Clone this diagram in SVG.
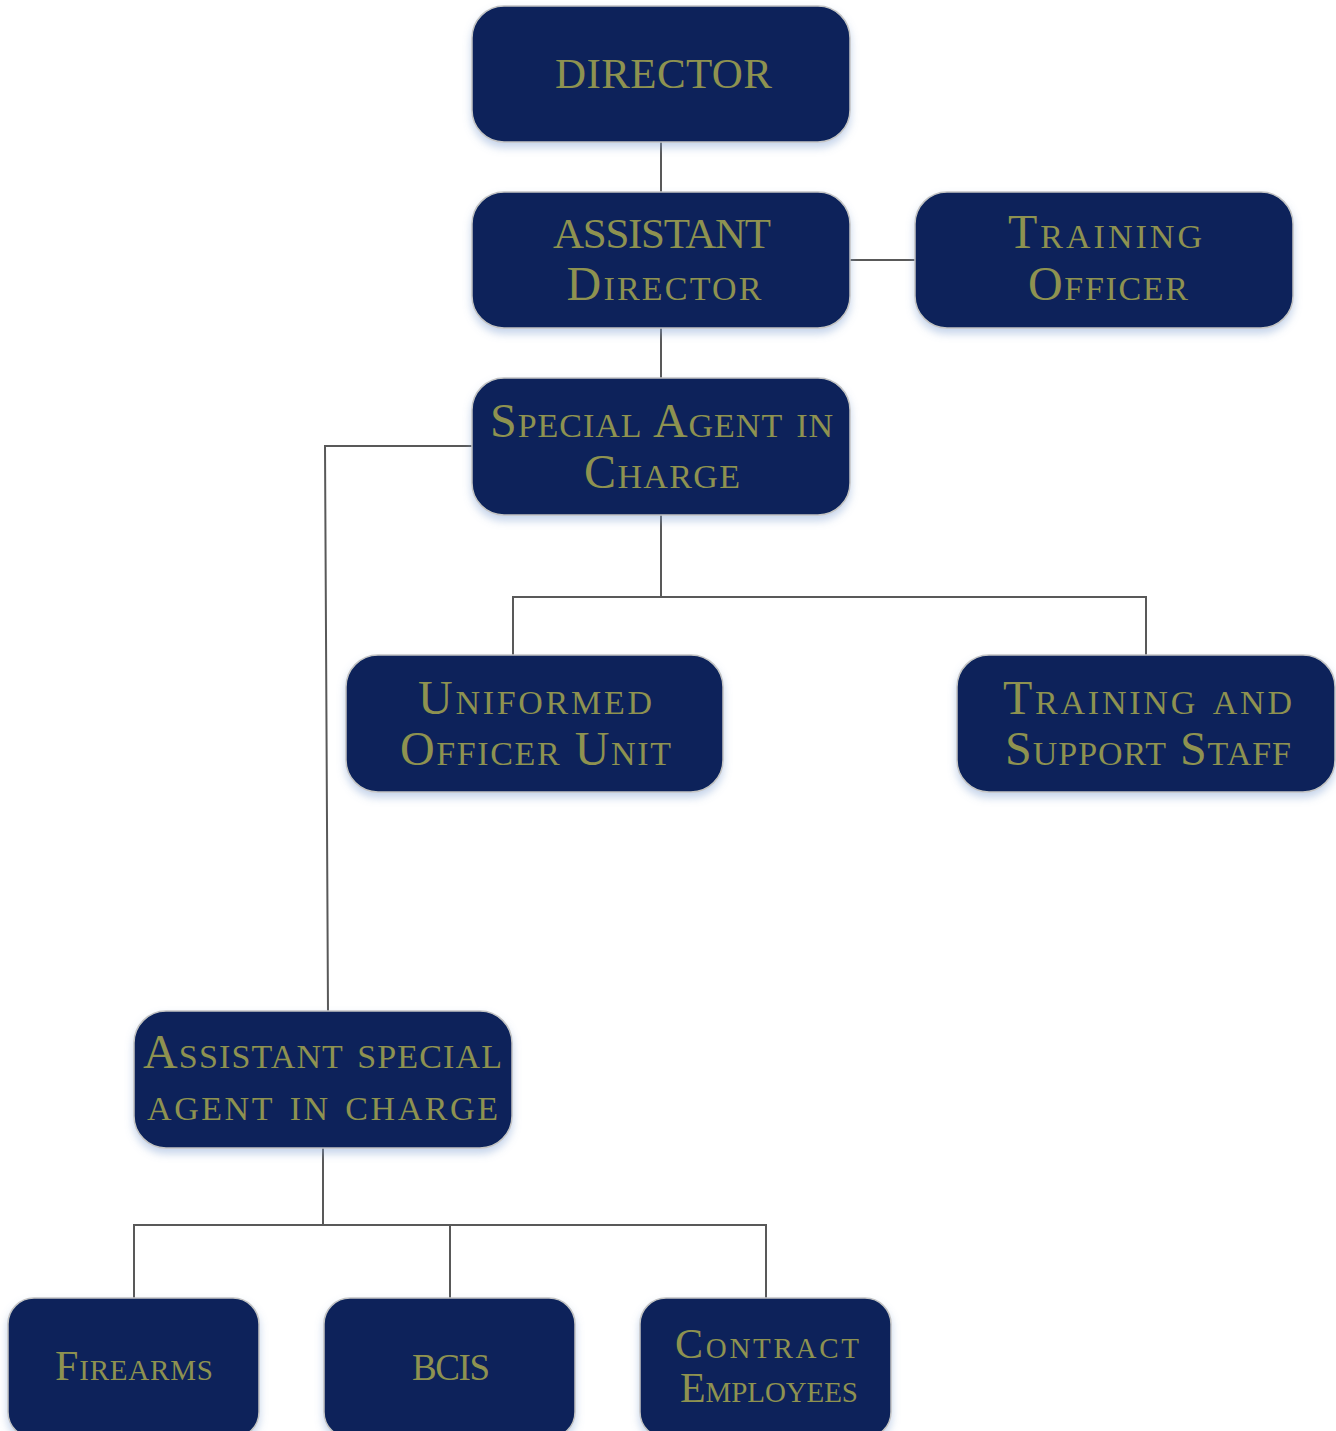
<svg xmlns="http://www.w3.org/2000/svg" width="1336" height="1431" viewBox="0 0 1336 1431">
<defs>
<filter id="sh" x="-10%" y="-20%" width="120%" height="150%">
<feDropShadow dx="0" dy="5" stdDeviation="4" flood-color="#7f9fd0" flood-opacity="0.45"/>
</filter>
<style>
.box{fill:#08235a;stroke:#c4c4c4;stroke-width:1.5;filter:url(#sh)}
.t{font-family:"Liberation Serif","Times New Roman",serif;font-variant:small-caps;fill:#8e9250;text-anchor:middle;font-size:48px}
.u{font-size:43px}
.s{font-size:42px}
.b{font-size:37px}
.c{fill:none;stroke:#595959;stroke-width:2}
</style>
</defs>
<rect width="1336" height="1431" fill="#ffffff"/>
<g id="connectors">
<line class="c" x1="661" y1="142" x2="661" y2="192"/>
<line class="c" x1="850" y1="260" x2="915" y2="260"/>
<line class="c" x1="661" y1="328" x2="661" y2="378"/>
<polyline class="c" points="472,446 325,446 328,1011"/>
<polyline class="c" points="661,515 661,597"/>
<polyline class="c" points="513,655 513,597 1146,597 1146,655"/>
<line class="c" x1="323" y1="1148" x2="323" y2="1225"/>
<polyline class="c" points="134,1298 134,1225 766,1225 766,1298"/>
<line class="c" x1="450" y1="1225" x2="450" y2="1298"/>
</g>
<g id="director">
<rect class="box" x="472" y="6" width="378" height="136" rx="32"/>
<text class="t u" x="663.5" y="88" textLength="217" lengthAdjust="spacing">DIRECTOR</text>
</g>
<g id="assistant-director">
<rect class="box" x="472" y="192" width="378" height="136" rx="32"/>
<text class="t u" x="662" y="248" textLength="218" lengthAdjust="spacing">ASSISTANT</text>
<text class="t" x="664" y="300" textLength="195" lengthAdjust="spacing">Director</text>
</g>
<g id="training-officer">
<rect class="box" x="915" y="192" width="378" height="136" rx="32"/>
<text class="t" x="1105" y="248" textLength="194" lengthAdjust="spacing">Training</text>
<text class="t" x="1108" y="300" textLength="160" lengthAdjust="spacing">Officer</text>
</g>
<g id="special-agent-in-charge">
<rect class="box" x="472" y="378" width="378" height="137" rx="32"/>
<text class="t" x="661.5" y="437" textLength="343" lengthAdjust="spacing">Special Agent in</text>
<text class="t" x="662" y="488" textLength="156" lengthAdjust="spacing">Charge</text>
</g>
<g id="uniformed-officer-unit">
<rect class="box" x="346" y="655" width="377" height="137" rx="32"/>
<text class="t" x="535" y="714" textLength="234" lengthAdjust="spacing">Uniformed</text>
<text class="t" x="535.5" y="765" textLength="271" lengthAdjust="spacing">Officer Unit</text>
</g>
<g id="training-and-support-staff">
<rect class="box" x="957" y="655" width="378" height="137" rx="32"/>
<text class="t" x="1147.5" y="714" textLength="289" lengthAdjust="spacing">Training and</text>
<text class="t" x="1148" y="765" textLength="286" lengthAdjust="spacing">Support Staff</text>
</g>
<g id="assistant-special-agent-in-charge">
<rect class="box" x="134" y="1011" width="378" height="137" rx="32"/>
<text class="t" x="322.5" y="1068" textLength="359" lengthAdjust="spacing">Assistant special</text>
<text class="t" x="322.5" y="1120" textLength="351" lengthAdjust="spacing">agent in charge</text>
</g>
<g id="firearms">
<rect class="box" x="8" y="1298" width="251" height="140" rx="26"/>
<text class="t s" x="134" y="1380" textLength="158" lengthAdjust="spacing">Firearms</text>
</g>
<g id="bcis">
<rect class="box" x="324" y="1298" width="251" height="140" rx="26"/>
<text class="t b" x="451" y="1380" textLength="78" lengthAdjust="spacing">BCIS</text>
</g>
<g id="contract-employees">
<rect class="box" x="640" y="1298" width="251" height="140" rx="26"/>
<text class="t s" x="767" y="1358" textLength="184" lengthAdjust="spacing">Contract</text>
<text class="t s" x="769" y="1402" textLength="178" lengthAdjust="spacing">Employees</text>
</g>
</svg>
